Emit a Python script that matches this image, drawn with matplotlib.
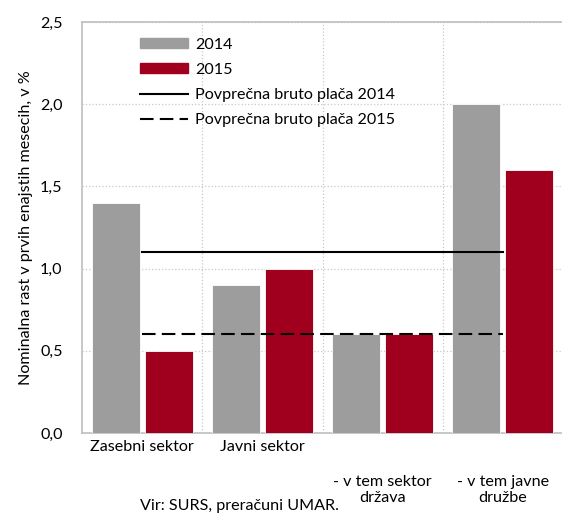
import matplotlib.pyplot as plt
import matplotlib.patches as mpatches
from matplotlib.lines import Line2D
import numpy as np

plt.rcParams['font.family'] = ['Lato', 'DejaVu Sans']

# Podatki
categories = ["Zasebni sektor", "Javni sektor", "- v tem sektor\ndržava", "- v tem javne\ndružbe"]
values_2014 = [1.4, 0.9, 0.6, 2.0]
values_2015 = [0.5, 1.0, 0.6, 1.6]
avg_2014 = 1.1
avg_2015 = 0.6
yticks = [0.0, 0.5, 1.0, 1.5, 2.0, 2.5]

grey = '#9d9d9d'
red = '#a0001e'
fs = 11.6
dash = (6.5, 3)

fig = plt.figure(figsize=(5.62, 5.13), dpi=100)
ax = fig.add_axes([82 / 562, 1 - 433 / 513, 481 / 562, 411 / 513])

x = np.arange(len(categories))
w = 0.4
ax.bar(x - 0.22, values_2014, w, color=grey, edgecolor='white', linewidth=0.6, zorder=3)
ax.bar(x + 0.22, values_2015, w, color=red, edgecolor='white', linewidth=0.6, zorder=3)

# Povprečne bruto plače
ax.plot([x[0], x[-1]], [avg_2014, avg_2014], color='black', lw=1.5, zorder=4)
ax.plot([x[0], x[-1]], [avg_2015, avg_2015], color='black', lw=1.5,
        dashes=dash, zorder=4)

ax.set_xlim(-0.5, len(categories) - 0.5)
ax.set_ylim(0, 2.5)
ax.set_yticks(yticks)
ax.set_yticklabels([f"{v:.1f}".replace('.', ',') for v in yticks], fontsize=fs)
ax.set_xticks(x)
ax.set_xticklabels([])
ax.set_xticks(x[:-1] + 0.5, minor=True)
ax.tick_params(axis='both', which='both', length=0)
ax.tick_params(axis='y', pad=14)

ax.grid(axis='y', which='major', color='#c8c8c8', linestyle=':', lw=0.9, zorder=0)
ax.grid(axis='x', which='minor', color='#c8c8c8', linestyle=':', lw=0.9, zorder=0)
for s in ax.spines.values():
    s.set_color('#bfbfbf')
    s.set_linewidth(1.2)

# Oznake kategorij
for i, lab in enumerate(categories):
    if '\n' in lab:
        ax.text(i, -0.258, lab, ha='center', va='top', fontsize=fs,
                linespacing=1.1, transform=ax.transData, clip_on=False)
    else:
        ax.text(i, -0.045, lab, ha='center', va='top', fontsize=fs,
                transform=ax.transData, clip_on=False)

ax.set_ylabel("Nominalna rast v prvih enajstih mesecih, v %", fontsize=fs, labelpad=5)

handles = [
    mpatches.Patch(color=grey, label='2014'),
    mpatches.Patch(color=red, label='2015'),
    Line2D([0], [0], color='black', lw=1.5, label='Povprečna bruto plača 2014'),
    Line2D([0], [0], color='black', lw=1.5, dashes=dash, label='Povprečna bruto plača 2015'),
]
ax.legend(handles=handles, loc='upper left', bbox_to_anchor=(0.12, 0.962),
          frameon=False, fontsize=fs, handlelength=3.0, handleheight=0.6,
          handletextpad=0.45, labelspacing=0.7, borderpad=0, borderaxespad=0)

fig.text(239 / 562, 1 - 506 / 513, "Vir: SURS, preračuni UMAR.", ha='center',
         va='center', fontsize=fs)

fig.savefig('out.png', dpi=100)
